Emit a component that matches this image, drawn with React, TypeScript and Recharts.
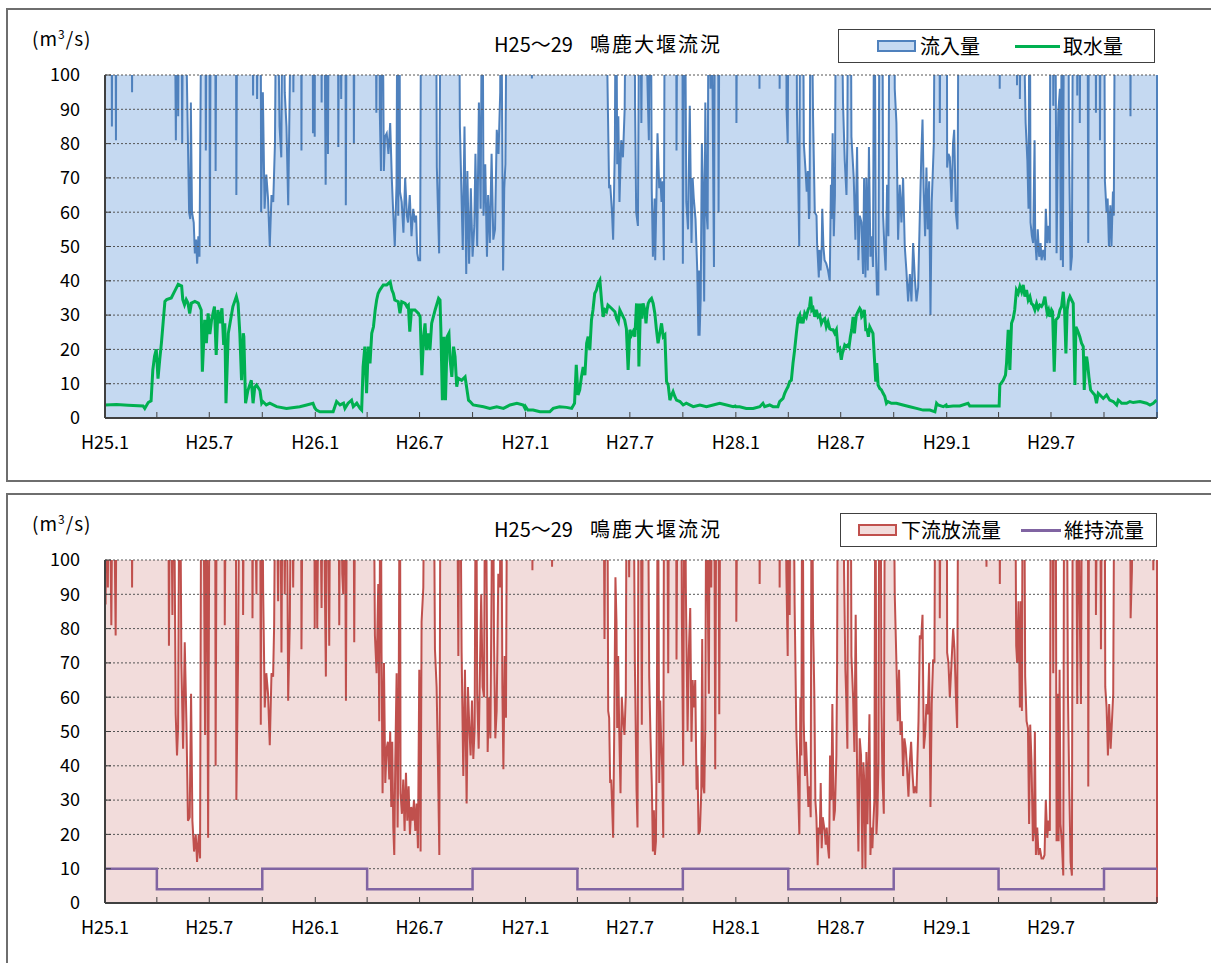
import React from 'react';
import { ComposedChart, Area, Line, XAxis, YAxis, ReferenceLine, Legend } from 'recharts';

// days counted from H25.1.1 (2013-01-01); each year's points are [day of year, m3/s]
const yearStart = [0, 365, 730, 1095, 1461];
const endDay = 1826;

const axisTicks = [0, 90, 181, 273, 365, 455, 546, 638, 730, 820, 911, 1003, 1095, 1186, 1277, 1369, 1461, 1551, 1642, 1734, 1826];
const axisLabels = ['H25.1', '', 'H25.7', '', 'H26.1', '', 'H26.7', '', 'H27.1', '', 'H27.7', '', 'H28.1', '', 'H28.7', '', 'H29.1', '', 'H29.7', '', ''];
const yTicks = [0, 10, 20, 30, 40, 50, 60, 70, 80, 90, 100];

// 流入量 (values above 100 run off the top of the plot)
const inflow2013 = [[0,92],[1,150],[11,150],[12,85],[13,150],[18,150],[19,81],[20,150],[46,150],[47,95],[48,150],[120,150],[123,81],[125,150],[127,88],[129,150],[132,150],[134,80],[136,150],[139,150],[142,100],[146,60],[148,58],[149,92],[151,60],[154,57],[156,48],[158,52],[160,45],[162,53],[164,47],[166,95],[168,150],[174,150],[175,78],[177,150],[181,150],[182,50],[184,150],[191,150],[192,72],[194,150],[227,150],[228,65],[230,150],[256,150],[257,94],[258,150],[263,150],[264,93],[266,150],[270,150],[271,60],[274,95],[277,61],[280,71],[283,64],[286,50],[289,65],[292,63],[295,80],[298,150],[303,85],[306,76],[309,150],[312,95],[315,85],[318,62],[321,100],[324,150],[326,150],[327,95],[328,150],[340,150],[341,78],[342,150],[360,150],[361,83],[362,150],[364,82]];
const inflow2014 = [[0,150],[10,150],[11,92],[12,150],[16,150],[17,93],[18,68],[20,150],[22,77],[24,150],[39,150],[40,79],[42,150],[45,93],[47,150],[52,150],[53,62],[55,150],[66,150],[67,80],[69,150],[104,150],[106,89],[108,150],[111,150],[112,89],[114,72],[116,150],[119,72],[121,82],[124,83],[127,77],[130,86],[133,69],[135,61],[138,50],[141,68],[143,150],[144,59],[146,150],[147,66],[150,63],[153,54],[156,70],[159,59],[161,57],[164,65],[167,53],[170,61],[173,57],[175,59],[177,48],[179,46],[182,46],[184,150],[209,150],[211,73],[215,48],[218,150],[249,150],[251,85],[256,49],[259,85],[262,42],[264,72],[267,45],[270,67],[273,47],[276,56],[278,77],[281,50],[284,92],[287,61],[290,150],[292,59],[295,74],[298,47],[300,65],[303,51],[306,77],[309,52],[312,55],[315,84],[318,77],[321,95],[322,150],[326,43],[328,67],[330,74],[333,150],[364,150]];
const inflow2015 = [[0,150],[10,150],[11,99],[12,150],[141,150],[142,100],[143,89],[145,67],[147,68],[150,60],[152,52],[155,79],[157,150],[159,74],[161,88],[163,63],[166,81],[169,76],[172,90],[175,150],[189,150],[190,92],[192,60],[195,56],[198,150],[201,86],[204,150],[214,81],[217,150],[219,67],[221,47],[224,64],[225,46],[227,63],[229,83],[232,67],[234,70],[236,63],[238,69],[240,46],[242,150],[261,150],[262,78],[264,150],[272,150],[273,45],[276,150],[279,63],[282,55],[285,91],[288,51],[290,70],[292,64],[295,58],[298,43],[300,24],[301,43],[302,24],[304,35],[306,80],[308,67],[310,34],[312,92],[314,60],[316,55],[318,150],[321,96],[322,150],[327,44],[329,150],[334,150],[335,60],[337,150],[364,150]];
const inflow2016 = [[0,150],[1,86],[3,150],[40,150],[41,96],[42,150],[75,150],[76,96],[77,150],[87,150],[88,90],[90,80],[92,150],[105,150],[106,90],[108,72],[110,50],[112,150],[116,150],[118,80],[121,72],[123,66],[125,72],[127,58],[128,61],[130,150],[134,88],[137,60],[140,59],[141,51],[144,41],[145,49],[147,43],[149,50],[150,61],[152,50],[154,46],[157,45],[160,43],[163,40],[165,68],[166,58],[168,83],[170,53],[172,65],[174,150],[182,150],[186,92],[189,75],[192,65],[193.6,82],[195,150],[199,150],[200.6,82],[204.6,70],[207.5,52],[210.4,79],[212.7,46],[215,59],[218,57],[220.8,42],[222.6,70],[224.9,41],[226.6,70],[229,43],[231,79],[233.6,47],[235.9,53],[238,44],[240.5,150],[242.8,51],[245,36],[247.4,36],[249.8,150],[254,150],[255.6,59],[258,49],[260,43],[262.5,68],[264.8,53],[267,150],[275,150],[275.8,96],[278.7,86],[281.6,52],[284.5,68],[287.4,57],[290.3,70],[293.2,50],[296,43],[299,34],[302,42],[304.8,34],[307.7,51],[310.6,41],[313.5,34],[316.4,38],[319.3,59],[322,77],[324,87],[326,67],[328.5,53],[330.8,73],[333,55],[335.5,69],[337.8,30],[340,63],[343.6,80],[346,150],[353,150],[354,86],[356,150],[365,150]];
const inflow2017 = [[0,150],[0.75,73],[3,77],[5.4,76],[8.3,63],[11,80],[13,84],[15.8,60],[18.7,55],[21,150],[91,150],[92,96],[93,150],[121,150],[122,97],[124,150],[126,150],[127,93],[130,150],[137,86],[140,75],[142,61],[144,150],[145.5,57],[147.8,53],[150,51],[152.5,81],[153.6,52],[155.9,46],[158,55],[160.5,47],[162.9,51],[164.6,46],[167.5,49],[170.4,46],[172,61],[174.5,51],[176.8,56],[179,51],[180,150],[184,150],[185,91],[187.8,150],[190.7,48],[193.6,89],[196.5,96],[198,46],[200,150],[201.7,44],[204,150],[211,150],[212,83],[215,43],[217.3,47],[219.6,150],[225,150],[226.6,94],[228,150],[230,150],[231,86],[233,150],[244,150],[245.7,51],[247,150],[258,150],[259,89],[260,150],[265,150],[266,81],[268,150],[273,150],[274.6,69],[277.5,60],[279.3,64],[281.6,50],[284,62],[286,50],[288.5,66],[290,59],[292.6,150],[318,150],[319,88],[320,150],[364,150]];

// 取水量
const intake2013 = [[0,3.8],[20,3.9],[40,3.7],[66,3.5],[69,2.8],[75,4.5],[80,5],[83,14],[86,18],[89,20],[92,11.5],[95,17],[98,22],[101,28],[104,34],[107,34.5],[115,35],[121,37],[127,39],[133,38.5],[135,34.5],[138,33],[141,34.5],[144,33.5],[147,30.5],[150,33.5],[156,34],[162,33.5],[167,31.5],[169,13.5],[173,28.6],[176,21.8],[179,30.5],[182,24.5],[185,28.6],[190,32.5],[193,18.4],[196,31.5],[199,27.6],[203,32],[206,21.3],[208,27.6],[210,4.3],[214,24.7],[217,27.6],[222,32.5],[228,35.4],[231,33.4],[234,24.7],[237,11],[240,24.7],[241,23.7],[244,4.3],[248,8],[254,11],[257,4.3],[260,9],[263,9.6],[269,8],[272,4.3],[274,4.8],[280,3.8],[286,4.3],[298,3.3],[315,2.8],[338,3.3],[350,3.8],[361,4.3],[364,3]];
const intake2014 = [[2,2.3],[8,1.8],[20,1.8],[31,1.8],[37,4.8],[43,3.8],[49,4.3],[51.5,2.8],[57,4.3],[63,5.2],[66,3.3],[72,4.3],[77.6,2.8],[80.5,2.3],[83,15],[86,20.8],[89,7.2],[92,20.8],[95,15.9],[98,24.7],[101,26.6],[104,31.5],[106.5,34.4],[109,36.3],[112,37.3],[118,38.8],[124,38.8],[130,39.7],[133,37.3],[135.5,36.3],[138,34.4],[144,33.9],[147,30.5],[150,33.9],[156,33.4],[159,32.5],[161.5,32.9],[164,25.2],[167,31.5],[173,31.5],[179,30.5],[182,29.5],[185,12.5],[188,23.7],[190.5,27.6],[193,19.8],[196,24.7],[199,19.8],[202,27.6],[208,31.5],[214,34.9],[216.5,34.4],[218,25.7],[220.6,5.2],[223.5,23.7],[226,5.2],[229,23.7],[232,24.7],[234,17],[237,12],[240,20.8],[242.6,17.9],[245.5,9.1],[248,11.6],[254,11],[260,12],[266,5.2],[268.7,4.8],[274,3.8],[292,3.3],[303,2.8],[315,3.3],[326.6,2.8],[338,3.8],[350,4.3],[361,3.8],[364,2.8]];
const intake2015 = [[0,3.3],[4,2.3],[13,2.3],[25,1.8],[42,1.8],[48,2.8],[59,3.3],[71,3.1],[80,2.8],[85,4.3],[88,15.5],[91,6.7],[94,8.2],[97,12],[100,14.9],[103,12.5],[106,21.8],[108.6,23.7],[111.5,19.8],[114.4,28.6],[117,31.5],[120,36.3],[123,37.3],[126,39.3],[129,40.2],[131.8,34.4],[134.7,29.5],[137.6,31.5],[140.5,31],[143,32.9],[149,32],[155,31],[158,29],[161,28],[163.6,31.5],[166.5,30.5],[169.4,29.5],[172,28.6],[175,26],[178,14],[181,25.7],[184,24.2],[186.8,25.2],[189.7,23.7],[192.6,33.4],[194,25.7],[195.5,33.4],[196.7,15],[199.6,33.4],[202,29],[204,33.4],[207,31.5],[209,27.6],[211,31.5],[212.8,33.4],[215.7,34.4],[218.6,34.9],[221.5,33.4],[224.4,30.5],[227,26],[230,21.8],[233,24.7],[236,27.6],[239,23.7],[241.8,24.2],[244.7,10.6],[247.6,9.6],[250.5,5.2],[253.4,6.7],[256,7.7],[259,6.3],[262,5.2],[268,4.8],[273.6,3.8],[279,4.3],[291,3.3],[302.6,3.8],[314,3.3],[325.7,3.8],[337,4.3],[349,3.8],[360.4,3.3],[364,3.5]];
const intake2016 = [[0,3.3],[6.6,3.3],[18,2.8],[30,2.8],[41.5,3.3],[47,4.3],[50,3.3],[58.7,3.8],[64.5,3.3],[73,3.3],[76,4.8],[81.9,5.7],[84.8,7.2],[87.6,8.2],[90.5,9.1],[93.4,10.6],[96.3,11],[99.2,16],[102,19.8],[105,24.7],[108,29],[110.8,30],[112.5,27.6],[114.3,29.5],[116.6,27.6],[119.5,30.5],[122.4,29.5],[125.3,31.5],[128,32.5],[130,35.4],[131.7,31.5],[134,32],[137,29.5],[139.8,31.5],[142.7,29.5],[145.6,30],[148.5,27.6],[151.4,28.6],[154.2,29],[157,26.6],[160,28],[163,26],[165.8,25.7],[168.7,25.7],[171.6,24.7],[174.5,25.7],[177.4,19.8],[180.3,20.3],[183,17],[184.9,18.9],[186.7,19.8],[189,21.3],[191.8,20.8],[194.7,21.3],[196.5,20.8],[198.8,23.7],[201,25.7],[203.5,29.5],[205.8,24.7],[207.5,27.6],[209.2,30],[212,31],[215,32],[216.8,31.5],[218.5,29.5],[220.8,30],[223,31.5],[225.5,25.7],[227.8,25.7],[230,23.7],[232.4,26.6],[235,25.7],[238,24.7],[241,16],[242.8,10.6],[244.6,16],[246.9,9.6],[249.8,8.6],[252.7,8.2],[255.6,7.2],[258.5,6.3],[261.4,4.3],[264,4.8],[270,4.3],[278.7,4.3],[290,3.8],[302,3.3],[313.5,2.8],[325,2.3],[336.8,2.3],[345.5,1.8],[348.4,4.3],[351,3.8],[360,3.3],[365,3.8]];
const intake2017 = [[0,3.3],[11,3.5],[22.7,3.5],[37,4.3],[40,3.5],[57.5,3.5],[74.8,3.5],[91,3.5],[92.2,9.6],[98,11],[102,12.5],[103.8,15.9],[106.7,25.7],[109.6,14],[112.5,27.6],[115.4,29],[118,31.5],[121,37.3],[124,36.3],[127,38.3],[130,36.8],[132.8,38.8],[135.7,35.4],[138.6,37.3],[141.5,34.4],[144.4,35.4],[147,33.4],[150,32.9],[153,31.5],[156,33.4],[158.8,31.9],[161.7,32.9],[164.6,32.5],[167.5,33.4],[170.4,35.4],[172,33.4],[174.5,30.5],[176.8,31.5],[179,29.5],[182,31.5],[183.7,31],[186.6,13.5],[189.5,28.6],[191.8,29],[194,29.5],[196.5,31.5],[199.4,32.5],[202.3,36.8],[204.6,31.5],[206.9,18.8],[209,31.5],[211.5,34.4],[213.8,35.4],[216.7,34.4],[219.6,33.4],[222.5,9.6],[224.2,26.6],[226.6,25.7],[228.9,24.7],[231,23.7],[234,21.8],[237,20.8],[238.7,8.2],[241,16.9],[242.8,17.9],[244.5,15.9],[246.8,12],[249.7,8.2],[252,7.7],[254.3,7.2],[257,6.7],[260,4.3],[263,7.2],[266,6.7],[271.7,5.7],[277.5,6.7],[283,5.2],[289,4.8],[295,3.8],[297.8,5.2],[300.7,4.8],[303.6,4.3],[312.3,4.3],[318,4.8],[323.8,4.5],[335.4,4.8],[347,4.3],[352.8,3.8],[358.6,4.3],[364,5.2]];

// 下流放流量
const discharge2013 = [[0,150],[1,87],[3.5,150],[5,92],[7,150],[11,81],[14,150],[18.5,78],[21,150],[46,150],[47,92],[48.6,150],[109.4,150],[111,75],[113.5,150],[117,84],[119,150],[122.7,55],[125,43],[126.8,51],[129.7,150],[132.6,70],[135.5,45],[138.4,76],[141.3,53],[144,24],[147,25],[149.4,61],[151.7,24],[154.6,15],[157.5,20],[159.8,12],[162.7,20],[165,13],[167.3,150],[170,150],[173.7,49],[176,150],[179,19],[181.8,150],[191,150],[192,40],[194.5,150],[207,150],[207.9,81],[210.8,150],[227,150],[228,30],[231,71],[234,150],[239,150],[239.7,84],[242,150],[255,150],[256,83],[258,150],[262.9,90],[264.6,150],[269,150],[270.4,52],[272,150],[274.5,91],[277.3,57],[280,67],[283,61],[286,46],[289,67],[291.8,66],[293.6,81],[296.4,150],[300.5,88],[303.4,150],[306.3,73],[309,150],[312,90],[315,150],[317.9,59],[320.8,82],[323.7,150],[326.6,92],[329.5,150],[340,150],[341,74],[344,150],[363,150],[364,80]];
const discharge2014 = [[0,150],[3.4,80],[6.8,150],[10.9,86],[13.8,150],[16.7,91],[18.4,66],[20.7,150],[24.2,75],[26.5,150],[39.8,150],[41.6,81],[43.9,150],[46.8,96],[48.5,90],[50.8,150],[53.2,59],[55.5,150],[65.9,150],[67.6,76],[69.9,150],[100.6,150],[103.5,78],[106.4,67],[109.3,93],[111,53],[113.4,150],[115,73],[116.8,32],[119.2,70],[121.5,35],[123.8,45],[126,47],[128.4,36],[130,50],[131.9,28],[133.6,47],[135.4,22],[137.1,14],[138.8,41],[141.2,67],[142.9,22],[144.6,51],[146.9,150],[148,32],[150.4,26],[152.7,36],[155,21],[157.4,38],[159.7,24],[162,34],[164.3,20],[166.6,28],[169,24],[171.3,30],[173.6,21],[175.9,29],[178.2,16],[180.5,68],[182.8,15],[184.5,82],[187.5,92],[190,150],[205,150],[207.7,74],[210.6,63],[213,40],[215.3,14],[217.6,150],[245.4,150],[248.3,72],[251,150],[254,73],[256.9,37],[259.8,68],[262.7,29],[265,63],[267.4,51],[269.6,43],[272,59],[274.3,42],[276.6,51],[279,150],[281,61],[283.6,45],[285.9,69],[288,90],[290.5,63],[292.9,60],[295.2,150],[297.5,92],[299.2,44],[301.5,60],[303.9,48],[306,92],[307.9,150],[310.2,77],[312.5,48],[314.8,56],[317.7,96],[320.6,92],[322.4,150],[324.7,63],[326.5,39],[328.8,72],[331,54],[333.4,150],[364,150]];
const discharge2015 = [[0,150],[11,150],[11.9,97],[13,150],[45,150],[46,98],[47,150],[134.7,150],[137,77],[139.3,150],[141.6,150],[143.4,56],[145.1,54],[146.8,35],[148.6,36],[150.3,28],[152,19],[153.8,49],[156,95],[157.8,82],[159,51],[160.7,72],[162.5,51],[164.8,32],[167,60],[169.4,53],[171.7,49],[174,61],[175.8,150],[178,150],[179.8,95],[181.6,150],[186.8,150],[189.7,70],[192.6,33],[194.3,22],[196.6,150],[199.5,150],[201.8,52],[204.2,150],[211.7,150],[214.6,66],[216.9,48],[219.2,34],[221,15],[222.7,27],[224.5,14],[226.3,18],[228,58],[229.6,150],[230.8,89],[232,35],[233.7,59],[235.4,47],[237.2,39],[239,19],[240.6,150],[245.3,150],[247.6,67],[249.3,150],[261,150],[262,71],[264.4,150],[270,150],[271.3,83],[273.6,40],[275.9,150],[278.3,90],[281.2,50],[283.5,74],[285.8,86],[288,47],[290,65],[292.2,57],[294.5,65],[296.8,33],[298.5,40],[300.3,20],[302.6,21],[304.9,32],[306.6,77],[308.4,34],[310.2,32],[311.9,51],[314.2,150],[316,92],[318.2,61],[320,150],[322.3,92],[324,150],[327,150],[329.2,39],[331.5,150],[334.4,150],[336.2,55],[338.5,150],[364,150]];
const discharge2016 = [[0,150],[0.8,82],[3.7,150],[40,150],[41.3,93],[43.7,150],[75,150],[76,92],[77.8,150],[86,150],[87.6,97],[90,72],[91.7,150],[93.4,84],[95.2,150],[99.2,150],[102,87],[105,50],[108,34],[110.2,20],[112,60],[113.7,43],[115.4,150],[117.8,53],[120,37],[121.8,47],[123.6,39],[125.9,28],[128.2,34],[129.9,25],[131.7,150],[134,82],[136.3,60],[138,30],[139.8,25],[142,11],[143.8,22],[145.6,20],[147.3,35],[149,16],[150.8,25],[152.5,23],[154.2,21],[156,17],[157.7,22],[159.4,17],[161.8,13],[163.5,43],[165.8,30],[167.5,58],[169.9,24],[172,27],[174.5,43],[175.7,68],[177.4,150],[186,150],[187.8,97],[190.1,68],[191.8,59],[193.6,45],[195.3,150],[199,150],[200.6,72],[203.5,60],[205.8,44],[208,84],[210.4,39],[212.7,15],[215,48],[217.3,43],[219.7,10],[221.4,41],[223.2,34],[224.9,10],[226.6,44],[228.4,23],[230.1,38],[231.9,55],[233.6,14],[235.3,22],[237,16],[238.8,24],[240.5,30],[242.3,150],[244,20],[245.7,26],[247.5,41],[249.2,150],[251,150],[252.7,59],[254.4,37],[256.8,26],[259,150],[273,150],[275.8,90],[278.7,70],[281,53],[283.3,68],[285.7,49],[288,53],[290.3,37],[292.6,48],[294.9,45],[297.2,39],[299.6,31],[301.9,41],[304.2,47],[306.5,38],[308.8,32],[311,34],[313.5,32],[317,53],[319.3,78],[321.6,77],[324,84],[326.2,45],[328.5,49],[330.8,58],[333,55],[335.5,70],[337.8,28],[340,58],[342.4,71],[344.7,70],[346.5,150],[353,150],[354,83],[356.3,150],[365,150]];
const discharge2017 = [[0,150],[0.75,73],[3,70],[5.4,60],[8.3,70],[11.2,80],[13.5,74],[15.8,61],[18.1,51],[20.4,150],[68,150],[69,98],[70.8,150],[91,150],[92.2,93],[94,150],[118.3,150],[120.6,75],[122.3,70],[124.6,88],[127,57],[128.7,88],[130.5,56],[132.2,150],[134,150],[136.2,66],[138.6,53],[141,51],[143,23],[144.9,52],[147.2,41],[149.6,18],[151.3,21],[153,50],[154.8,14],[157.1,22],[159.4,14],[161.7,16],[164.6,13],[167.5,13],[169.8,14],[172,30],[174.5,19],[176.8,24],[179,21],[180.8,150],[183,150],[184.9,67],[186.6,150],[188.9,150],[190.7,18],[192.4,61],[194.2,18],[195.9,68],[197.6,23],[200,17],[202.3,8],[204,150],[208,150],[210.4,61],[212.7,34],[215,12],[217.3,8],[219,150],[224.3,150],[226.6,58],[228.4,150],[230.7,87],[233,58],[235.2,150],[245,150],[245.7,34],[247.4,150],[258,150],[259,84],[262.4,150],[266,150],[267.7,74],[270,150],[274,150],[275.2,63],[277.5,57],[279.8,43],[282,58],[284.5,45],[286.8,53],[289,61],[291.4,150],[318,150],[319.2,83],[321.5,97],[323.8,150],[357,150],[358.6,97],[360.9,150],[364,150]];

// 維持流量 (steps: Jan-Mar 10, Apr-Sep 4, Oct-Dec 10)
const keep2013 = [[0,10],[90,4],[273,10]];
const keep2014 = [[0,10],[90,4],[273,10]];
const keep2015 = [[0,10],[90,4],[273,10]];
const keep2016 = [[0,10],[91,4],[274,10]];
const keep2017 = [[0,10],[90,4],[273,10],[365,10]];

const FONT = "'Noto Sans CJK JP', 'Noto Sans', sans-serif";

function merge(series: Record<string, number[][][]>) {
  const rows = new Map<number, any>();
  Object.entries(series).forEach(([key, years]) => {
    years.forEach((pts, i) => {
      pts.forEach(([d, v]) => {
        const day = yearStart[i] + d;
        const row = rows.get(day) ?? { day };
        row[key] = v;
        rows.set(day, row);
      });
    });
  });
  return [...rows.values()].sort((a, b) => a.day - b.day);
}

const topData = merge({
  inflow: [inflow2013, inflow2014, inflow2015, inflow2016, inflow2017],
  intake: [intake2013, intake2014, intake2015, intake2016, intake2017],
});
const bottomData = merge({
  discharge: [discharge2013, discharge2014, discharge2015, discharge2016, discharge2017],
  keep: [keep2013, keep2014, keep2015, keep2016, keep2017],
});

function XTick(props: any) {
  const { x, y, payload } = props;
  const label = axisLabels[axisTicks.indexOf(payload.value)];
  if (!label) return <g />;
  return (
    <text x={x} y={y} dy="0.71em" textAnchor="middle" fontSize={18} fill="#000">
      {label}
    </text>
  );
}

type LegendItem = { label: string; kind: 'area' | 'line'; stroke: string; fill?: string; width: number };

function LegendBox({ items, padLeft, gap }: { items: LegendItem[]; padLeft: number; gap: number }) {
  return (
    <div style={{ width: 317, height: 34, boxSizing: 'border-box', border: '1px solid #404040', background: '#fff', display: 'flex', alignItems: 'center', paddingLeft: padLeft, fontSize: 20, fontFamily: FONT, color: '#000' }}>
      {items.map((it, i) => (
        <div key={it.label} style={{ display: 'flex', alignItems: 'center', marginLeft: i ? gap : 0 }}>
          {it.kind === 'area' ? (
            <div style={{ width: it.width, height: 12, boxSizing: 'border-box', background: it.fill, border: `2px solid ${it.stroke}` }} />
          ) : (
            <div style={{ width: it.width, height: 3, background: it.stroke }} />
          )}
          <span style={{ marginLeft: it.kind === 'area' ? 4 : 3, lineHeight: '24px' }}>{it.label}</span>
        </div>
      ))}
    </div>
  );
}

function Panel({ top, children }: { top: number; children: React.ReactNode }) {
  return (
    <div style={{ position: 'absolute', left: 6, top, width: 1212, height: 474, boxSizing: 'border-box', border: '2px solid #6e6e6e', background: '#fff' }}>
      {children}
      <div style={{ position: 'absolute', left: 24, top: 16, fontSize: 19, lineHeight: '24px', letterSpacing: 1, whiteSpace: 'pre' }}>
        (m<span style={{ fontSize: 12, verticalAlign: 'top', lineHeight: '15px' }}>3</span>/s)
      </div>
      <div style={{ position: 'absolute', left: 486, top: 21, fontSize: 20, lineHeight: '26px', whiteSpace: 'pre' }}>
        H25～29<span style={{ marginLeft: 17, letterSpacing: 2 }}>鳴鹿大堰流況</span>
      </div>
    </div>
  );
}

const margin = { top: 65, right: 59, bottom: 32, left: 0 };
const axisStroke = '#404040';
const gridValues = yTicks.slice(1);

export default function App() {
  return (
    <div style={{ position: 'absolute', left: 0, top: 0, width: 1211, height: 963, overflow: 'hidden', background: '#fff', fontFamily: FONT, color: '#000' }}>
      <Panel top={8}>
        <ComposedChart width={1208} height={470} data={topData} margin={margin}>
          <XAxis type="number" dataKey="day" domain={[0, endDay]} ticks={axisTicks} interval={0} tick={XTick} tickSize={-6} tickMargin={24} height={30} stroke={axisStroke} axisLine={{ stroke: axisStroke, strokeWidth: 2 }} allowDataOverflow />
          <YAxis domain={[0, 100]} ticks={yTicks} interval={0} width={97} tickSize={-6} tickMargin={31} tick={{ fontSize: 18, fill: '#000' }} stroke={axisStroke} axisLine={{ stroke: axisStroke, strokeWidth: 2 }} allowDataOverflow />
          <Area type="linear" dataKey="inflow" name="流入量" stroke="#4f81bd" strokeWidth={2} fill="#c5d9f1" fillOpacity={1} connectNulls dot={false} activeDot={false} isAnimationActive={false} />
          {gridValues.map((v) => (
            <ReferenceLine key={v} y={v} stroke="#555" strokeDasharray="2 2" />
          ))}
          <ReferenceLine x={endDay} stroke="#4f81bd" strokeWidth={2} />
          <Line type="linear" dataKey="intake" name="取水量" stroke="#00b050" strokeWidth={3} connectNulls dot={false} activeDot={false} isAnimationActive={false} />
          <Legend layout="vertical" align="center" verticalAlign="middle" wrapperStyle={{ left: 830, top: 19, width: 317, height: 34 }}
            content={() => (
              <LegendBox padLeft={38} gap={35} items={[
                { label: '流入量', kind: 'area', stroke: '#4f81bd', fill: '#c5d9f1', width: 39 },
                { label: '取水量', kind: 'line', stroke: '#00b050', width: 45 },
              ]} />
            )} />
        </ComposedChart>
      </Panel>
      <Panel top={493}>
        <ComposedChart width={1208} height={470} data={bottomData} margin={margin}>
          <XAxis type="number" dataKey="day" domain={[0, endDay]} ticks={axisTicks} interval={0} tick={XTick} tickSize={-6} tickMargin={24} height={30} stroke={axisStroke} axisLine={{ stroke: axisStroke, strokeWidth: 2 }} allowDataOverflow />
          <YAxis domain={[0, 100]} ticks={yTicks} interval={0} width={97} tickSize={-6} tickMargin={31} tick={{ fontSize: 18, fill: '#000' }} stroke={axisStroke} axisLine={{ stroke: axisStroke, strokeWidth: 2 }} allowDataOverflow />
          <Area type="linear" dataKey="discharge" name="下流放流量" stroke="#c0504d" strokeWidth={2} fill="#f2dcdb" fillOpacity={1} connectNulls dot={false} activeDot={false} isAnimationActive={false} />
          {gridValues.map((v) => (
            <ReferenceLine key={v} y={v} stroke="#555" strokeDasharray="2 2" />
          ))}
          <ReferenceLine x={endDay} stroke="#c0504d" strokeWidth={2} />
          <Line type="stepAfter" dataKey="keep" name="維持流量" stroke="#8064a2" strokeWidth={2.5} connectNulls dot={false} activeDot={false} isAnimationActive={false} />
          <Legend layout="vertical" align="center" verticalAlign="middle" wrapperStyle={{ left: 832, top: 18, width: 317, height: 34 }}
            content={() => (
              <LegendBox padLeft={17} gap={20} items={[
                { label: '下流放流量', kind: 'area', stroke: '#c0504d', fill: '#f2dcdb', width: 39 },
                { label: '維持流量', kind: 'line', stroke: '#8064a2', width: 40 },
              ]} />
            )} />
        </ComposedChart>
      </Panel>
    </div>
  );
}
